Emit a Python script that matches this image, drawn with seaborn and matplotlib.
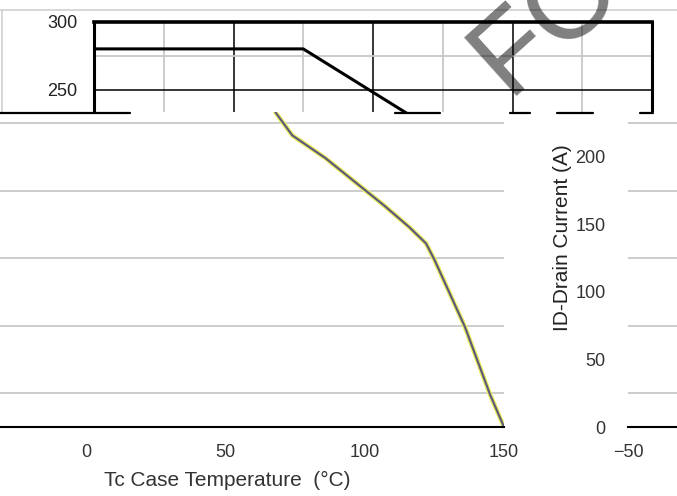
import numpy as np
import pandas as pd
import seaborn as sns
import matplotlib.pyplot as plt
from matplotlib.lines import Line2D

# upper (black) curve
top_temp = [0, 75, 120]
top_value = [280, 280, 223]
top_yticks = [250, 300]

# lower derating curve, ID vs Tc
case_temp = [68, 74, 86, 98, 107, 116, 122, 125, 136, 145, 150]
drain_current = [233, 216, 199, 179, 164, 148, 136, 124, 74, 24, 0]
x_ticks = [0, 50, 100, 150]
y_ticks = [0, 50, 100, 150, 200]

W, H = 677, 496


def box(l, t, r, b):
    return [l / W, 1 - b / H, (r - l) / W, (b - t) / H]


def main():
    sns.set_theme(style='white')
    plt.rcParams['font.family'] = ['Liberation Sans', 'DejaVu Sans']

    fig = plt.figure(figsize=(W / 100, H / 100), dpi=100)
    grey = '#c8c8c8'

    # ---- top panel
    ax_top = fig.add_axes(box(94, 21.5, 652, 113))
    sns.lineplot(x=top_temp, y=top_value, ax=ax_top, color='black', lw=2.2,
                 sort=False, estimator=None)
    ax_top.set_xlim(0, 200)
    ax_top.set_ylim(233.2, 300)
    ax_top.set_xticks([50, 100, 150])
    ax_top.set_xticks([25, 75, 125, 175], minor=True)
    ax_top.set_yticks(top_yticks)
    ax_top.set_yticks([275], minor=True)
    ax_top.grid(which='major', color='black', lw=1.1)
    ax_top.grid(which='minor', color=grey, lw=1.3)
    ax_top.set_axisbelow(True)
    ax_top.tick_params(axis='x', which='both', length=0, labelbottom=False)
    ax_top.tick_params(axis='y', which='both', length=0, labelsize=13, pad=12,
                       labelcolor='#222222')
    ax_top.spines['bottom'].set_visible(False)
    ax_top.spines['top'].set_linewidth(2.6)
    for s in ['top', 'left', 'right']:
        ax_top.spines[s].set_color('black')
    ax_top.spines['left'].set_linewidth(2.2)
    ax_top.spines['right'].set_linewidth(2.2)

    # ---- main panel
    ax = fig.add_axes(box(0, 112, 504, 427))
    sns.lineplot(x=case_temp, y=drain_current, ax=ax, color='#eeee66', lw=3.4,
                 sort=False, estimator=None)
    sns.lineplot(x=case_temp, y=drain_current, ax=ax, color='#5c5c78', lw=1.6,
                 sort=False, estimator=None)
    ax.set_xlim(-30.9, 150)
    ax.set_ylim(0, 233.3)
    ax.set_xticks(x_ticks)
    ax.set_yticks([])
    ax.set_yticks([25, 75, 125, 175, 225], minor=True)
    ax.grid(which='minor', axis='y', color=grey, lw=1.3)
    ax.tick_params(axis='x', length=0, labelsize=13, pad=12, labelcolor='#333333')
    ax.tick_params(axis='y', which='both', length=0)
    for s in ['top', 'left', 'right']:
        ax.spines[s].set_visible(False)
    ax.spines['bottom'].set_color('black')
    ax.spines['bottom'].set_linewidth(1.5)
    ax.set_xlabel('')
    ax.set_ylabel('')

    # ---- right fragment with the current axis
    ax_r = fig.add_axes(box(628, 112, 677, 427))
    ax_r.set_xlim(-50, -32.4)
    ax_r.set_ylim(0, 233.3)
    ax_r.set_xticks([-50])
    ax_r.set_yticks(y_ticks)
    ax_r.set_yticks([25, 75, 125, 175, 225], minor=True)
    ax_r.grid(which='minor', axis='y', color=grey, lw=1.3)
    ax_r.tick_params(axis='x', length=0, labelsize=13, pad=12, labelcolor='#333333')
    ax_r.tick_params(axis='y', which='both', length=0, labelsize=13, pad=16,
                     labelcolor='#333333')
    for s in ['top', 'left', 'right']:
        ax_r.spines[s].set_visible(False)
    ax_r.spines['bottom'].set_color('black')
    ax_r.spines['bottom'].set_linewidth(1.5)

    # axis titles
    fig.text(227 / W, 1 - 480 / H, 'Tc Case Temperature  (°C)', ha='center',
             va='center', fontsize=15, color='#333333')
    fig.text(563 / W, 1 - 238 / H, 'ID-Drain Current (A)', ha='center',
             va='center', rotation=90, fontsize=15, color='#222222')

    # frame fragments
    fig.add_artist(Line2D([0, 1], [1 - 9.5 / H] * 2, color='#d4d4d4', lw=1.3))
    fig.add_artist(Line2D([2 / W] * 2, [1 - 9.5 / H, 1 - 112 / H],
                          color='#d4d4d4', lw=1.3))
    for a, b in [(0, 130), (395, 440), (510, 530), (557, 593), (640, 653)]:
        fig.add_artist(Line2D([a / W, b / W], [1 - 112.5 / H] * 2,
                              color='black', lw=1.6))

    # watermark
    fig.text(508 / W, 1 - 96 / H, 'FOR', rotation=42, rotation_mode='anchor',
             ha='left', va='baseline', fontsize=82, color='black', alpha=0.5)

    fig.savefig('out.png', dpi=100)


if __name__ == "__main__":
    main()
